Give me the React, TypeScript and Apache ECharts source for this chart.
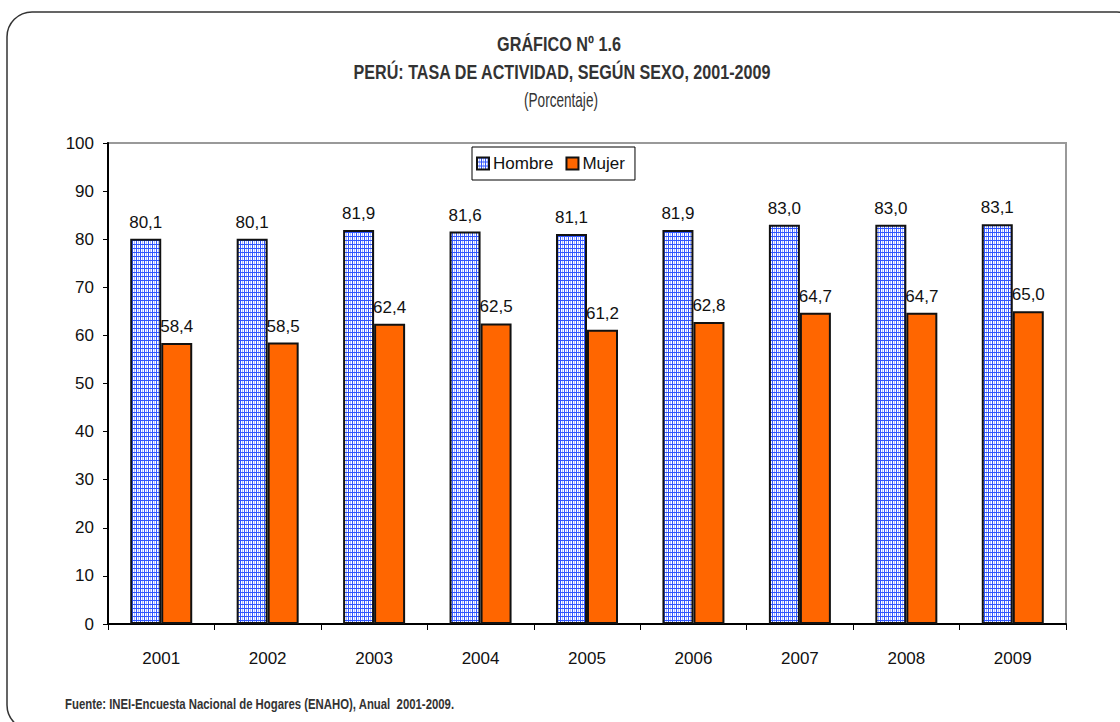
import React, { useEffect, useRef } from "react";
import * as echarts from "echarts";

const years = ["2001", "2002", "2003", "2004", "2005", "2006", "2007", "2008", "2009"];
const hombre = [80.1, 80.1, 81.9, 81.6, 81.1, 81.9, 83.0, 83.0, 83.1];
const mujer = [58.4, 58.5, 62.4, 62.5, 61.2, 62.8, 64.7, 64.7, 65.0];
const yTicks = { min: 0, max: 100, interval: 10 };
const titleLines = ["GRÁFICO Nº 1.6", "PERÚ: TASA DE ACTIVIDAD, SEGÚN SEXO, 2001-2009", "(Porcentaje)"];
const sourceNote = "Fuente: INEI-Encuesta Nacional de Hogares (ENAHO), Anual  2001-2009.";

const FONT = "'Liberation Sans', Arial, sans-serif";

function makePattern(): HTMLCanvasElement {
  const c = document.createElement("canvas");
  c.width = 4;
  c.height = 4;
  const ctx = c.getContext("2d")!;
  ctx.fillStyle = "#ffffff";
  ctx.fillRect(0, 0, 4, 4);
  ctx.fillStyle = "#a9b9ff";
  ctx.fillRect(2, 0, 1, 4);
  ctx.fillStyle = "#2f55ff";
  ctx.fillRect(0, 0, 1, 4);
  ctx.fillRect(0, 0, 4, 1);
  return c;
}

function fitScale(text: string, weight: string, size: number, target: number): number {
  const c = document.createElement("canvas");
  const ctx = c.getContext("2d")!;
  ctx.font = `${weight} ${size}px 'Liberation Sans', Arial, sans-serif`;
  const w = ctx.measureText(text).width;
  return w > 0 ? target / w : 1;
}

export default function App() {
  const ref = useRef<HTMLDivElement>(null);
  useEffect(() => {
    if (!ref.current) return;
    const chart = echarts.init(ref.current, undefined, { renderer: "svg" });
    const pattern = { image: makePattern(), repeat: "repeat" } as any;
    const fmt = (p: any) => Number(p.value).toFixed(1).replace(".", ",");
    const titleSpecs = [
      { text: titleLines[0], weight: "bold", size: 21, cx: 559, cy: 44, w: 124 },
      { text: titleLines[1], weight: "bold", size: 21, cx: 562, cy: 72, w: 418 },
      { text: titleLines[2], weight: "normal", size: 20, cx: 561, cy: 101, w: 74 },
    ];
    const titleGraphics = titleSpecs.map((t) => ({
      type: "text",
      x: t.cx,
      y: t.cy,
      scaleX: fitScale(t.text, t.weight, t.size, t.w),
      silent: true,
      style: {
        text: t.text,
        fontFamily: FONT,
        fontSize: t.size,
        fontWeight: t.weight,
        fill: "#333",
        textAlign: "center",
        textVerticalAlign: "middle",
      },
    }));
    chart.setOption({
      animation: false,
      backgroundColor: "#ffffff",
      textStyle: { fontFamily: FONT },
      legend: {
        left: 472,
        top: 147,
        orient: "horizontal",
        backgroundColor: "#fff",
        borderColor: "#000",
        borderWidth: 1,
        borderRadius: 0,
        padding: [8, 10, 8, 4],
        itemGap: 12,
        itemWidth: 12,
        itemHeight: 12,
        icon: "rect",
        textStyle: { fontFamily: FONT, fontSize: 17, color: "#111", padding: [0, 0, 0, -1] },
        data: ["Hombre", "Mujer"],
      },
      grid: {
        left: 108,
        top: 143,
        right: 54,
        bottom: 98,
        show: true,
        borderColor: "#999",
        borderWidth: 2,
        backgroundColor: "#fff",
      },
      xAxis: {
        type: "category",
        data: years,
        axisLine: { lineStyle: { color: "#000", width: 2 } },
        axisTick: { show: true, interval: 0, alignWithLabel: false, length: 6, lineStyle: { color: "#000", width: 1 } },
        axisLabel: { fontFamily: FONT, fontSize: 17, color: "#111", margin: 26, interval: 0 },
        splitLine: { show: false },
      },
      yAxis: {
        type: "value",
        min: yTicks.min,
        max: yTicks.max,
        interval: yTicks.interval,
        axisLine: { show: true, lineStyle: { color: "#000", width: 2 } },
        axisTick: { show: true, length: 5, lineStyle: { color: "#000", width: 1 } },
        axisLabel: { fontFamily: FONT, fontSize: 17, color: "#111", margin: 14 },
        splitLine: { show: false },
      },
      series: [
        {
          name: "Hombre",
          type: "bar",
          data: hombre,
          barWidth: 31,
          barGap: "0%",
          itemStyle: { color: pattern, borderColor: "#111", borderWidth: 2 },
          label: { show: true, position: "top", distance: 8, formatter: fmt, fontFamily: FONT, fontSize: 17, color: "#111" },
        },
        {
          name: "Mujer",
          type: "bar",
          data: mujer,
          barWidth: 31,
          barGap: "0%",
          itemStyle: { color: "#ff6600", borderColor: "#111", borderWidth: 2 },
          label: { show: true, position: "top", distance: 8, formatter: fmt, fontFamily: FONT, fontSize: 17, color: "#111" },
        },
      ],
      graphic: [
        {
          type: "rect",
          z: -10,
          silent: true,
          shape: { x: 7, y: 12, width: 1135, height: 718, r: 25 },
          style: { fill: "none", stroke: "#333", lineWidth: 1.5 },
        },
        ...titleGraphics,
        {
          type: "text",
          x: 65,
          y: 704,
          scaleX: fitScale(sourceNote, "bold", 15, 390),
          silent: true,
          style: {
            text: sourceNote,
            fontFamily: FONT,
            fontSize: 15,
            fontWeight: "bold",
            fill: "#333",
            textAlign: "left",
            textVerticalAlign: "middle",
          },
        },
      ],
    });
    return () => chart.dispose();
  }, []);
  return <div ref={ref} style={{ position: "fixed", left: 0, top: 0, width: 1120, height: 722 }} />;
}
